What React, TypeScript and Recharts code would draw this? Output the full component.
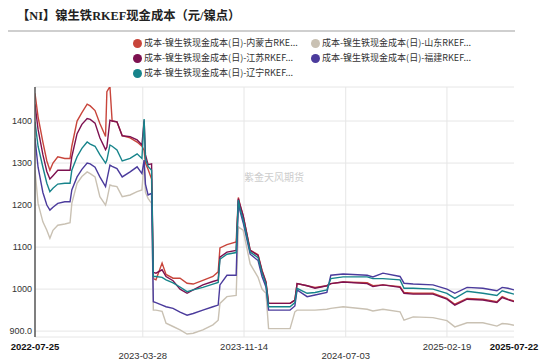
import React from 'react';
import { LineChart, Line, XAxis, YAxis, CartesianGrid, ReferenceLine } from 'recharts';

const dates = [
  '2022-07-25','2022-08-01','2022-08-12','2022-08-21','2022-08-28','2022-09-04','2022-09-15','2022-10-01','2022-10-13','2022-10-17',
  '2022-10-29','2022-11-09','2022-11-21','2022-11-28','2022-12-09','2022-12-20','2023-01-02','2023-01-05','2023-01-12','2023-01-17',
  '2023-01-28','2023-02-09','2023-02-27','2023-03-15','2023-03-26','2023-03-31','2023-04-03','2023-04-09','2023-04-17','2023-04-21',
  '2023-04-27','2023-05-11','2023-05-20','2023-06-05','2023-06-21','2023-07-07','2023-07-21','2023-08-12','2023-09-04','2023-09-16',
  '2023-09-20','2023-10-06','2023-10-27','2023-11-01','2023-11-05','2023-11-12','2023-11-28','2023-12-16','2023-12-25','2024-01-03',
  '2024-01-09','2024-01-12','2024-02-27','2024-03-09','2024-03-14','2024-04-06','2024-04-24','2024-05-21','2024-05-30','2024-06-27',
  '2024-08-21','2024-09-03','2024-09-26','2024-11-04','2024-11-13','2024-12-04','2025-01-18','2025-02-19','2025-03-09','2025-04-06',
  '2025-05-12','2025-06-13','2025-06-25','2025-07-08','2025-07-22',
];

const neimenggu = [
  1466,1410,1350,1305,1283,1300,1315,1311,1311,1340,
  1400,1420,1440,1436,1425,1394,1363,1470,1482,1400,
  1398,1365,1360,1350,1340,1330,1300,1285,1262,1025,
  1022,1062,1035,1026,1026,1014,1012,1021,1030,1041,
  1098,1106,1112,1218,1200,1175,1093,1082,1045,1018,
  966,966,966,974,1013,1008,1004,1008,1013,1017,
  1015,1008,1010,1006,992,990,990,978,964,978,
  976,970,982,976,972,
];
const shandong = [
  1283,1204,1160,1140,1121,1140,1152,1155,1158,1204,
  1252,1268,1279,1275,1267,1220,1200,1212,1248,1246,
  1244,1220,1224,1232,1236,1307,1230,1216,1204,950,
  950,947,919,911,903,893,895,903,915,926,
  966,982,985,1148,1145,1140,1060,1028,1000,990,
  906,906,906,946,950,950,950,952,954,958,
  952,948,952,946,926,934,932,925,910,920,
  920,912,918,917,914,
];
const jiangsu = [
  1440,1380,1320,1280,1262,1270,1283,1283,1283,1315,
  1370,1392,1406,1404,1395,1360,1332,1338,1402,1400,
  1398,1365,1363,1355,1343,1402,1320,1296,1298,1040,
  1038,1046,1030,1020,1000,990,998,1010,1018,1022,
  1076,1088,1092,1215,1200,1175,1092,1080,1043,1016,
  966,966,966,974,1013,1008,1002,1008,1013,1017,
  1013,1006,1010,1004,990,988,988,976,962,976,
  974,968,980,975,970,
];
const fujian = [
  1359,1290,1230,1200,1188,1195,1204,1208,1208,1236,
  1267,1285,1300,1298,1290,1267,1244,1260,1295,1292,
  1287,1267,1279,1291,1275,1307,1250,1224,1228,970,
  968,962,958,954,945,938,942,950,958,962,
  1010,1033,1033,1210,1185,1158,1083,1068,1030,1005,
  950,950,950,960,998,982,986,992,1033,1036,
  1033,1029,1038,1030,1014,1012,1010,1000,990,1004,
  1002,996,1004,1002,998,
];
const liaoning = [
  1398,1340,1290,1252,1232,1240,1250,1252,1252,1283,
  1315,1335,1350,1345,1340,1320,1300,1307,1343,1340,
  1331,1305,1311,1322,1311,1405,1310,1292,1283,1030,
  1030,1028,1022,1015,1005,994,998,1004,1012,1016,
  1071,1083,1087,1212,1190,1165,1088,1075,1038,1012,
  958,958,958,968,1002,990,992,998,1025,1029,
  1029,1025,1025,1022,1002,1002,1000,990,978,995,
  990,985,996,992,988,
];

const seriesNames = [
  '成本-镍生铁现金成本(日)-内蒙古RKE...',
  '成本-镍生铁现金成本(日)-山东RKEF...',
  '成本-镍生铁现金成本(日)-江苏RKEF...',
  '成本-镍生铁现金成本(日)-福建RKEF...',
  '成本-镍生铁现金成本(日)-辽宁RKEF...',
];
const seriesKeys = ['neimenggu', 'shandong', 'jiangsu', 'fujian', 'liaoning'];
const seriesColors = ['#c8453b', '#c9c1b3', '#7d1150', '#4b3b9c', '#17848b'];

const title = '【NI】镍生铁RKEF现金成本（元/镍点）';
const watermark = '紫金天风期货';
const xTickLabels = ['2022-07-25', '2023-03-28', '2023-11-14', '2024-07-03', '2025-02-19', '2025-07-22'];
const yTicks = [900, 1000, 1100, 1200, 1300, 1400];
const yDomain = [886, 1481];

const toTs = (s: string) => Date.parse(s + 'T00:00:00Z');
const xTicks = xTickLabels.map(toTs);

const data = dates.map((d, i) => ({
  t: toTs(d),
  neimenggu: neimenggu[i],
  shandong: shandong[i],
  jiangsu: jiangsu[i],
  fujian: fujian[i],
  liaoning: liaoning[i],
}));

const fmtDate = (ts: number) => new Date(ts).toISOString().slice(0, 10);

const XTick = (props: any) => {
  const { x, y, payload } = props;
  const i = xTicks.indexOf(payload.value);
  const lower = i === 1 || i === 3;
  const bold = i === 0 || i === xTicks.length - 1;
  return (
    <text
      x={x}
      y={y + (lower ? 22 : 13)}
      textAnchor="middle"
      fontSize={9.5}
      fontWeight={bold ? 700 : 400}
      fill={bold ? '#111' : '#333'}
      fontFamily="'Liberation Sans', Arial, sans-serif"
    >
      {fmtDate(payload.value)}
    </text>
  );
};

const YTick = (props: any) => {
  const { x, y, payload } = props;
  const v = payload.value;
  const label = v === yTicks[0] ? v.toFixed(1) : String(v);
  return (
    <text
      x={x}
      y={y + 3.3}
      textAnchor="end"
      fontSize={9}
      fill="#333"
      fontFamily="'Liberation Sans', Arial, sans-serif"
    >
      {label}
    </text>
  );
};

const legendPos = [
  { col: 0, row: 0 },
  { col: 1, row: 0 },
  { col: 0, row: 1 },
  { col: 1, row: 1 },
  { col: 0, row: 2 },
];

export default function App() {
  return (
    <div style={{ position: 'absolute', left: 0, top: 0, width: 550, height: 361, background: '#fff', overflow: 'hidden' }}>
      <div
        style={{
          position: 'absolute',
          left: 17,
          top: 9,
          fontSize: 12.3,
          lineHeight: '15px',
          fontWeight: 700,
          color: '#222',
          fontFamily: "'Liberation Serif', 'Noto Sans CJK SC', serif",
          whiteSpace: 'nowrap',
        }}
      >
        {title}
      </div>
      <div style={{ position: 'absolute', left: 8, top: 30, width: 507, height: 1.5, background: '#cfcfcf' }} />
      {seriesNames.map((name, i) => {
        const p = legendPos[i];
        const cx = p.col === 0 ? 137 : 315;
        const cy = 43.3 + p.row * 15;
        return (
          <div key={name} style={{ position: 'absolute', left: cx - 4.5, top: cy - 7, height: 14, display: 'flex', alignItems: 'center', whiteSpace: 'nowrap' }}>
            <span style={{ display: 'inline-block', width: 9, height: 9, borderRadius: '50%', background: seriesColors[i] }} />
            <span
              style={{
                marginLeft: 2.5,
                fontSize: 9,
                color: '#333',
                fontFamily: "'Noto Sans CJK SC', 'Liberation Sans', sans-serif",
                lineHeight: '14px',
              }}
            >
              {name}
            </span>
          </div>
        );
      })}
      <div
        style={{
          position: 'absolute',
          left: 244,
          top: 170,
          fontSize: 10,
          color: '#cdcdcd',
          fontFamily: "'Noto Sans CJK SC', sans-serif",
          lineHeight: '14px',
          pointerEvents: 'none',
          whiteSpace: 'nowrap',
        }}
      >
        {watermark}
      </div>
      <div style={{ position: 'absolute', left: 0, top: 0 }}>
        <LineChart width={550} height={361} data={data} margin={{ top: 87, right: 36, bottom: 0, left: 0 }}>
          <CartesianGrid vertical={false} stroke="#e6e6e6" strokeWidth={1} />
          {xTicks.slice(1, -1).map((t) => (
            <ReferenceLine key={t} x={t} stroke="#e6e6e6" strokeWidth={1} ifOverflow="extendDomain" />
          ))}
          <XAxis
            dataKey="t"
            type="number"
            scale="linear"
            domain={[xTicks[0], xTicks[xTicks.length - 1]]}
            ticks={xTicks}
            tick={<XTick />}
            axisLine={false}
            tickLine={false}
            tickSize={0}
            tickMargin={0}
            height={24}
            interval={0}
            allowDataOverflow
          />
          <YAxis
            type="number"
            domain={yDomain}
            ticks={yTicks}
            tick={<YTick />}
            axisLine={{ stroke: '#555', strokeWidth: 1.5 }}
            tickLine={false}
            tickSize={0}
            tickMargin={3}
            width={35}
            interval={0}
            allowDataOverflow
          />
          {seriesKeys.map((k, i) => (
            <Line
              key={k}
              dataKey={k}
              type="linear"
              stroke={seriesColors[i]}
              strokeWidth={1.4}
              dot={false}
              activeDot={false}
              isAnimationActive={false}
            />
          ))}
        </LineChart>
      </div>
    </div>
  );
}
